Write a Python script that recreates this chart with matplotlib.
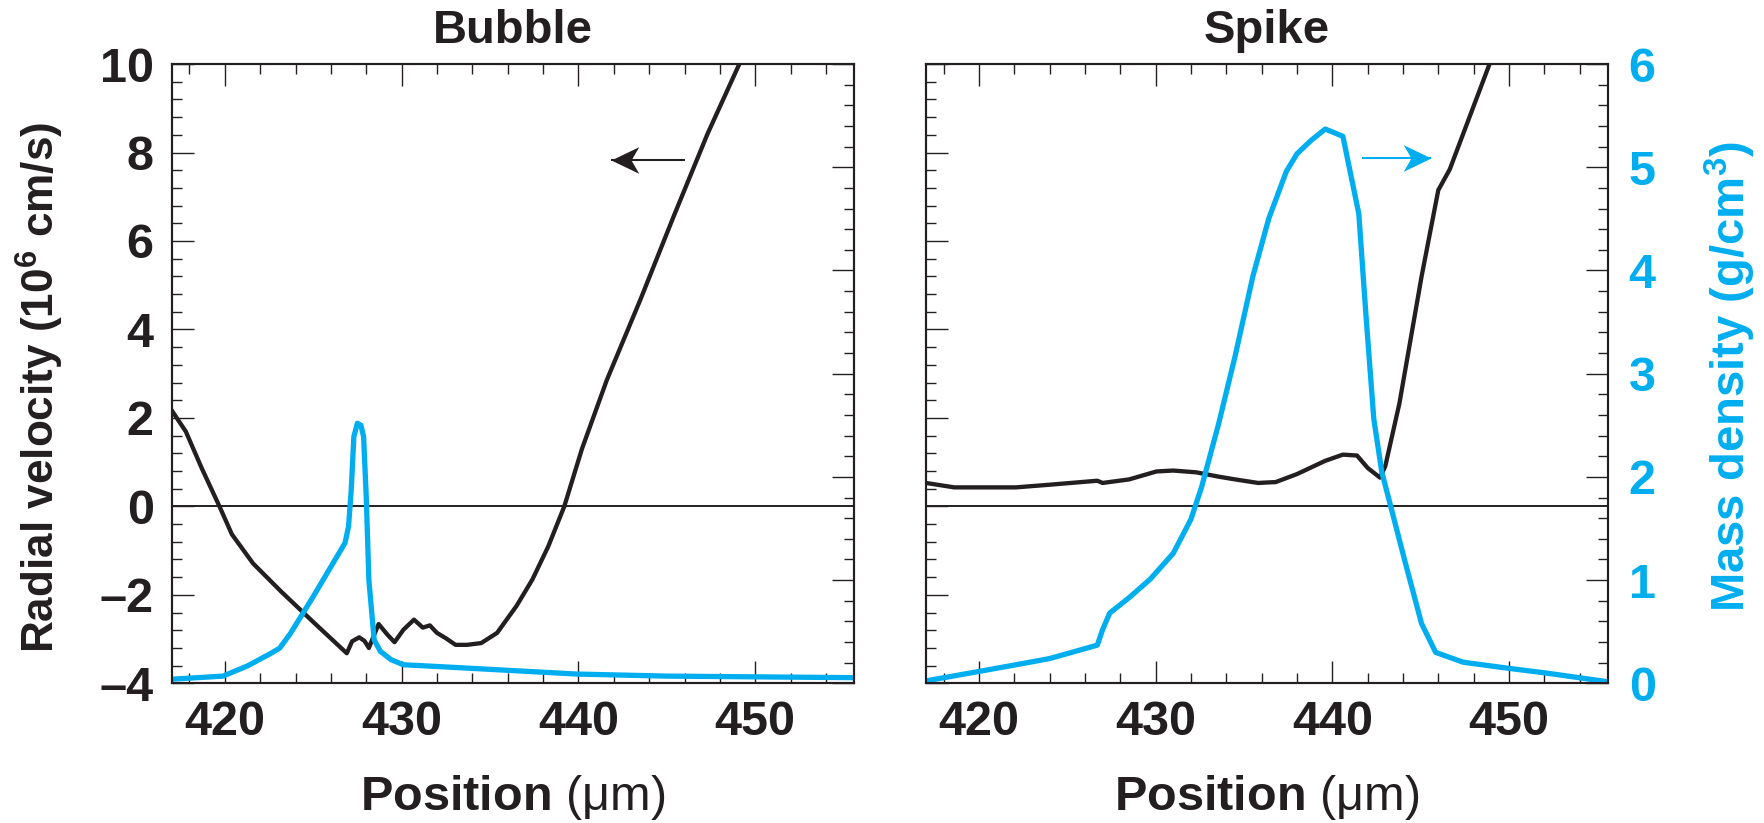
import matplotlib
matplotlib.use("Agg")
import matplotlib.pyplot as plt
from matplotlib.ticker import MultipleLocator
from matplotlib.path import Path

plt.rcParams['font.family'] = ['Liberation Sans', 'DejaVu Sans']
plt.rcParams['mathtext.fontset'] = 'custom'
plt.rcParams['mathtext.rm'] = 'Liberation Sans'
plt.rcParams['mathtext.bf'] = 'Liberation Sans:bold'

BLACK = '#231f20'
BLUE = '#00aeef'

# Bubble: radial velocity (10^6 cm/s) vs position (um)
bubble_vel_x = [417.0, 417.8, 418.7, 419.7, 420.4, 421.6, 423.2, 425.1, 426.9, 427.2,
                427.6, 427.9, 428.15, 428.4, 428.7, 429.2, 429.6, 430.1, 430.7, 431.2,
                431.6, 432.0, 432.5, 433.05, 433.7, 434.5, 435.4, 436.5, 437.4, 438.3,
                439.2, 440.2, 441.6, 443.5, 445.4, 447.3, 449.1, 449.4]
bubble_vel = [2.17, 1.69, 0.86, 0.0, -0.63, -1.29, -1.93, -2.65, -3.32, -3.05,
              -2.96, -3.04, -3.2, -2.95, -2.66, -2.9, -3.07, -2.79, -2.56, -2.74,
              -2.69, -2.86, -2.98, -3.13, -3.13, -3.09, -2.86, -2.25, -1.65, -0.9,
              0.0, 1.3, 2.85, 4.67, 6.57, 8.42, 10.0, 10.5]

# Bubble: mass density (g/cm^3)
bubble_rho_x = [417.0, 419.9, 421.3, 422.6, 423.1, 423.7, 425.0, 426.8, 427.0, 427.15,
                427.3, 427.5, 427.7, 427.85, 428.0, 428.15, 428.45, 428.8, 429.4, 430.1,
                431.6, 434.5, 439.9, 445.0, 455.6]
bubble_rho = [0.04, 0.07, 0.17, 0.29, 0.34, 0.48, 0.84, 1.36, 1.52, 1.87,
              2.39, 2.52, 2.50, 2.39, 1.81, 1.0, 0.42, 0.31, 0.23, 0.18,
              0.167, 0.14, 0.09, 0.07, 0.055]

# Spike: radial velocity
spike_vel_x = [417.0, 418.6, 422.1, 424.0, 426.7, 427.0, 428.5, 430.05, 431.0, 432.3,
               433.6, 434.5, 435.8, 436.8, 438.0, 439.6, 440.6, 441.4, 442.0, 442.7,
               443.0, 443.8, 445.05, 446.0, 446.65, 448.9, 449.2]
spike_vel = [0.53, 0.43, 0.43, 0.49, 0.58, 0.53, 0.61, 0.79, 0.81, 0.77,
             0.67, 0.61, 0.53, 0.55, 0.73, 1.03, 1.17, 1.15, 0.87, 0.65,
             0.91, 2.33, 5.19, 7.15, 7.62, 10.0, 10.6]

# Spike: mass density
spike_rho_x = [417.05, 419.5, 422.1, 424.0, 426.7, 427.0, 427.4, 428.5, 429.7, 431.0,
               432.0, 432.6, 433.56, 434.5, 435.5, 436.4, 437.4, 438.0, 438.8, 439.6,
               440.6, 441.5, 441.9, 442.35, 442.8, 443.3, 444.1, 445.05, 445.85, 447.4,
               450.0, 452.1, 455.6]
spike_rho = [0.025, 0.1, 0.18, 0.24, 0.37, 0.52, 0.68, 0.83, 1.01, 1.26,
             1.59, 1.90, 2.51, 3.17, 3.94, 4.50, 4.96, 5.13, 5.26, 5.37,
             5.30, 4.55, 3.58, 2.56, 2.05, 1.72, 1.19, 0.58, 0.30, 0.205,
             0.145, 0.10, 0.015]

# arrows: (tail x, tip x, y)
bubble_arrow = (446.05, 441.85, 7.83)
spike_arrow = (441.7, 445.6, 5.09)

FS = 35

# stealth-style arrow head, tip at the origin
HEAD_R = Path([(0, 0), (-1, 0.48), (-0.72, 0), (-1, -0.48), (0, 0)],
              [Path.MOVETO, Path.LINETO, Path.LINETO, Path.LINETO, Path.CLOSEPOLY])
HEAD_L = Path([(0, 0), (1, 0.48), (0.72, 0), (1, -0.48), (0, 0)],
              [Path.MOVETO, Path.LINETO, Path.LINETO, Path.LINETO, Path.CLOSEPOLY])


def style_x(ax):
    ax.set_xlim(417.0, 455.6)
    ax.xaxis.set_major_locator(MultipleLocator(10))
    ax.xaxis.set_minor_locator(MultipleLocator(2))
    ax.tick_params(axis='x', which='both', direction='in', top=True, bottom=True,
                   labelsize=FS, pad=12, colors=BLACK)


def style_vel(ax, labels):
    ax.set_ylim(-4, 10)
    ax.yaxis.set_minor_locator(MultipleLocator(0.4))
    ax.set_yticks([-4, -2, 0, 2, 4, 6, 8, 10])
    ax.set_yticklabels(['\u20134', '\u20132', '0', '2', '4', '6', '8', '10'])
    ax.tick_params(axis='y', which='both', direction='in', left=True, right=False,
                   labelleft=labels, labelsize=FS, pad=13, colors=BLACK)


def style_rho(ax, labels):
    ax.set_ylim(0, 6)
    ax.yaxis.set_major_locator(MultipleLocator(1))
    ax.yaxis.set_minor_locator(MultipleLocator(0.2))
    ax.tick_params(axis='y', which='both', direction='in', right=True, left=False,
                   labelright=labels, labelsize=FS, pad=15, colors=BLACK)
    ax.tick_params(axis='y', labelcolor=BLUE)


def common(ax):
    ax.tick_params(which='major', length=16, width=1.0)
    ax.tick_params(which='minor', length=7.5, width=1.0)
    for s in ax.spines.values():
        s.set_linewidth(1.5)
        s.set_color(BLACK)
    for lab in ax.get_xticklabels() + ax.get_yticklabels():
        lab.set_fontweight('bold')


def arrow(ax, spec, color, head):
    x0, x1, y = spec
    ax.plot([x0, x1], [y, y], color=color, lw=1.5, solid_capstyle='butt')
    ax.plot([x1], [y], marker=head, markersize=40, color=color, markeredgewidth=0)


fig = plt.figure(figsize=(17.65, 8.23), dpi=100)
ax1 = fig.add_axes([0.0973, 0.1697, 0.3867, 0.7525])
ax2 = fig.add_axes([0.5246, 0.1697, 0.3864, 0.7525])

for ax, vx, vy, rx, ry, title, left_lab in [
        (ax1, bubble_vel_x, bubble_vel, bubble_rho_x, bubble_rho, 'Bubble', True),
        (ax2, spike_vel_x, spike_vel, spike_rho_x, spike_rho, 'Spike', False)]:
    axb = ax.twinx()
    ax.axhline(0, color=BLACK, lw=1.4)
    ax.plot(vx, vy, color=BLACK, lw=3.1, solid_joinstyle='round')
    axb.plot(rx, ry, color=BLUE, lw=3.8, solid_joinstyle='round')
    style_x(ax)
    style_vel(ax, left_lab)
    style_rho(axb, not left_lab)
    common(ax)
    common(axb)
    ax.set_title(title, fontsize=34, fontweight='bold', color=BLACK, pad=15)
    ax.set_xlabel('Position $\\mathrm{(\u03bcm)}$', fontsize=FS, fontweight='bold',
                  color=BLACK, va='baseline')
    ax.xaxis.set_label_coords(0.5, -0.205)
    if left_lab:
        ax.set_ylabel('Radial velocity (10$^{\\mathbf{6}}$ cm/s)', fontsize=31.8,
                      fontweight='bold', color=BLACK, va='center')
        ax.yaxis.set_label_coords(-0.193, 0.478)
        arrow(ax, bubble_arrow, BLACK, HEAD_L)
    else:
        axb.set_ylabel('Mass density (g/cm$^{\\mathbf{3}}$)', fontsize=34,
                       fontweight='bold', color=BLUE, va='center', rotation=90)
        axb.yaxis.set_label_coords(1.179, 0.495)
        arrow(axb, spike_arrow, BLUE, HEAD_R)

fig.savefig('out.png', dpi=100)
